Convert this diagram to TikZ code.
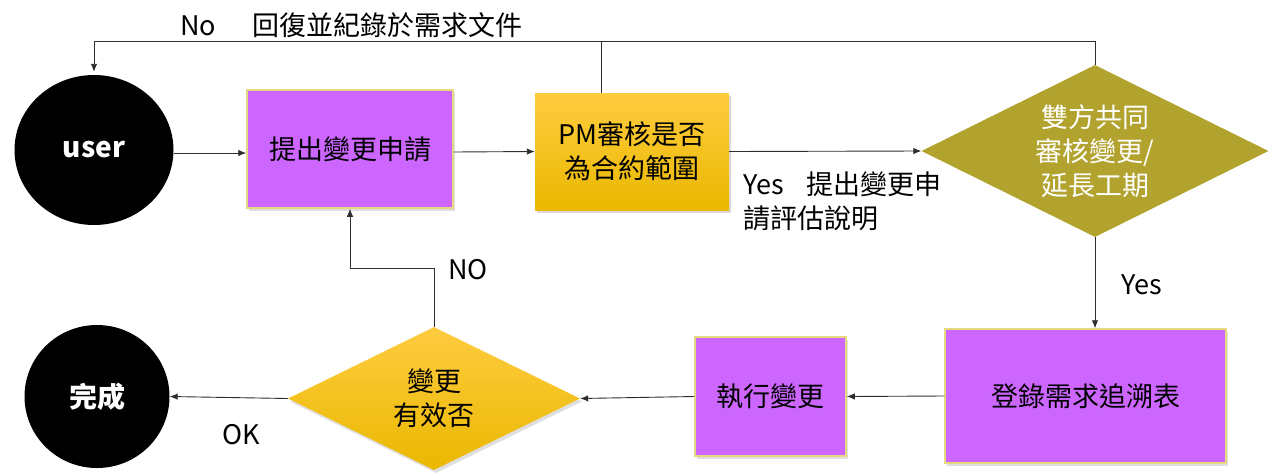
\documentclass[tikz,border=0pt]{standalone}
\usepackage{fontspec}
\setmainfont{Noto Sans CJK TC}
\usetikzlibrary{shapes.geometric,arrows.meta,shadows,calc}
\definecolor{violetbox}{RGB}{204,102,255}
\definecolor{boxedge}{RGB}{228,216,128}
\definecolor{olivefill}{RGB}{178,162,46}
\definecolor{goldtop}{RGB}{255,204,64}
\definecolor{goldbot}{RGB}{234,184,0}
\definecolor{linecol}{RGB}{45,45,45}
\begin{document}
\begin{tikzpicture}[x=1pt,y=-1pt,
  every node/.style={font=\fontsize{27}{34}\selectfont, inner sep=0pt},
  term/.style={ellipse, fill=black, text=white, font=\fontsize{28}{34}\selectfont\bfseries},
  purplebox/.style={rectangle, fill=violetbox, draw=boxedge, line width=1.5pt,
    drop shadow={opacity=0.25, shadow xshift=2pt, shadow yshift=-3pt}},
  goldbox/.style={rectangle, top color=goldtop, bottom color=goldbot, align=center,
    drop shadow={opacity=0.3, shadow xshift=2pt, shadow yshift=-3pt}},
  olivediamond/.style={diamond, aspect=2, fill=olivefill, text=white, align=center},
  golddiamond/.style={diamond, aspect=2, top color=goldtop, bottom color=goldbot, align=center,
    drop shadow={opacity=0.25, shadow xshift=2pt, shadow yshift=-3pt}},
  conn/.style={draw=linecol, line width=0.9pt},
  arr/.style={conn, -{Latex[length=8pt,width=6.5pt]}},
  lbl/.style={text=black}
]
\useasboundingbox (0,0) rectangle (1281,472);

% nodes
\node[term, minimum width=159pt, minimum height=150pt] (user) at (94,150) {user};
\node[purplebox, minimum width=206pt, minimum height=118pt] (req) at (350,149) {提出變更申請};
\node[goldbox, minimum width=194pt, minimum height=117pt] (pm) at (632,151.5) {PM審核是否\\為合約範圍};
\node[olivediamond, minimum width=347pt, minimum height=172pt] (d1) at (1095,151) {雙方共同\\審核變更/\\延長工期};
\node[purplebox, minimum width=281pt, minimum height=134pt] (reg) at (1085.5,396) {登錄需求追溯表};
\node[purplebox, minimum width=151pt, minimum height=119pt] (exe) at (770.5,396.5) {執行變更};
\node[golddiamond, minimum width=292pt, minimum height=143pt] (d2) at (434,398.5) {變更\\有效否};
\node[term, minimum width=145pt, minimum height=143pt] (done) at (97,396.5) {完成};

\coordinate (topline) at (0,41);
\coordinate (nobend) at (0,268);

% connectors
\draw[arr] ([yshift=-3pt]user.east) -- ([yshift=-3pt]user.east -| req.west);
\draw[arr] ([yshift=-3pt]req.east) -- (pm.west);
\draw[arr] (pm.east) -- (d1.west);
\draw[arr] (d1.north) |- (topline -| user.north) -- ([yshift=3pt]user.north);
\draw[conn] ([xshift=67pt]pm.north west) -- ([xshift=67pt]pm.north west |- topline);
\draw[arr] (d1.south) -- (d1.south |- reg.north);
\draw[arr] (reg.west) -- (exe.east);
\draw[arr] (exe.west) -- (d2.east);
\draw[arr] (d2.west) -- (done.east);
\draw[arr] (d2.north) |- (nobend -| req.south) -- (req.south);

% labels
\node[lbl, anchor=west] (lno) at (180,25) {No\hspace{1.35em}回復並紀錄於需求文件};
\node[lbl, anchor=north west, align=left] (lyes1) at (743,172) {Yes\hspace{0.85em}提出變更申\\請評估說明};
\node[lbl] (lno2) at (468,270) {NO};
\node[lbl] (lok) at (241,435) {OK};
\node[lbl] (lyes2) at (1142,285) {Yes};
\end{tikzpicture}
\end{document}
